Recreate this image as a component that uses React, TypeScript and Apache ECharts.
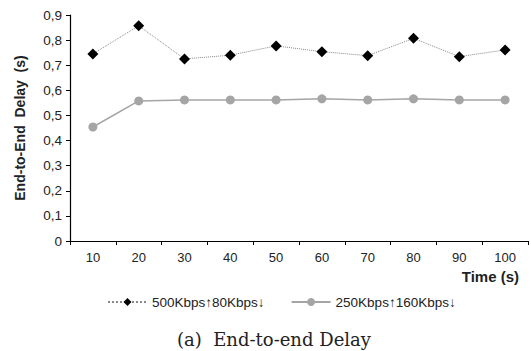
import React, { useEffect, useRef } from "react";
import * as echarts from "echarts";

const categories = ["10", "20", "30", "40", "50", "60", "70", "80", "90", "100"];
const series500 = [0.745, 0.857, 0.725, 0.74, 0.777, 0.754, 0.738, 0.807, 0.734, 0.761];
const series250 = [0.454, 0.558, 0.562, 0.562, 0.562, 0.566, 0.562, 0.566, 0.562, 0.562];
const seriesNames = ["500Kbps\u219180Kbps\u2193", "250Kbps\u2191160Kbps\u2193"];

export default function App() {
  const ref = useRef<HTMLDivElement>(null);
  useEffect(() => {
    if (!ref.current) return;
    const chart = echarts.init(ref.current, null, { renderer: "svg" });
    const font = "Liberation Sans, Arial, sans-serif";
    chart.setOption({
      animation: false,
      backgroundColor: "#ffffff",
      textStyle: { fontFamily: font },
      title: {
        text: "(a)  End-to-end Delay",
        left: 177,
        top: 330,
        padding: 0,
        textStyle: {
          fontFamily: "DejaVu Serif, serif",
          fontWeight: "normal",
          fontSize: 18,
          color: "#222",
        },
      },
      grid: { left: 70, right: 3, top: 15, bottom: 110 },
      legend: {
        top: 290,
        left: 102,
        itemWidth: 39,
        itemHeight: 10,
        itemGap: 26,
        textStyle: { fontFamily: font, fontSize: 13.5, color: "#222" },
        data: seriesNames,
      },
      graphic: [
        {
          type: "text",
          right: 12,
          top: 269,
          style: {
            text: "Time (s)",
            font: "bold 15px " + font,
            fill: "#222",
          },
        },
      ],
      xAxis: {
        type: "category",
        data: categories,
        axisLine: { lineStyle: { color: "#000", width: 1.2 } },
        axisTick: { show: true, length: 4, inside: false, lineStyle: { color: "#000" } },
        axisLabel: { color: "#222", fontSize: 13, margin: 10 },
      },
      yAxis: {
        type: "value",
        min: 0,
        max: 0.9,
        interval: 0.1,
        name: "End-to-End  Delay  (s)",
        nameLocation: "middle",
        nameGap: 43,
        nameTextStyle: { fontWeight: "bold", fontSize: 14, color: "#222", fontFamily: font },
        splitLine: { show: false },
        axisLine: { show: true, lineStyle: { color: "#000", width: 1.2 } },
        axisTick: { show: true, length: 4, lineStyle: { color: "#000" } },
        axisLabel: {
          color: "#222",
          fontSize: 13.5,
          margin: 8,
          formatter: (v: number) => (Math.round(v * 10) / 10).toString().replace(".", ","),
        },
      },
      series: [
        {
          name: seriesNames[0],
          type: "line",
          data: series500,
          symbol: "diamond",
          symbolSize: 11,
          itemStyle: { color: "#000" },
          lineStyle: { color: "#888", width: 1, type: "dotted" },
        },
        {
          name: seriesNames[1],
          type: "line",
          data: series250,
          symbol: "circle",
          symbolSize: 9,
          itemStyle: { color: "#a5a5a5" },
          lineStyle: { color: "#a5a5a5", width: 1.5, type: "solid" },
        },
      ],
    });
    return () => chart.dispose();
  }, []);
  return (
    <div
      ref={ref}
      style={{ position: "absolute", left: 0, top: 0, width: 531, height: 351 }}
    />
  );
}
